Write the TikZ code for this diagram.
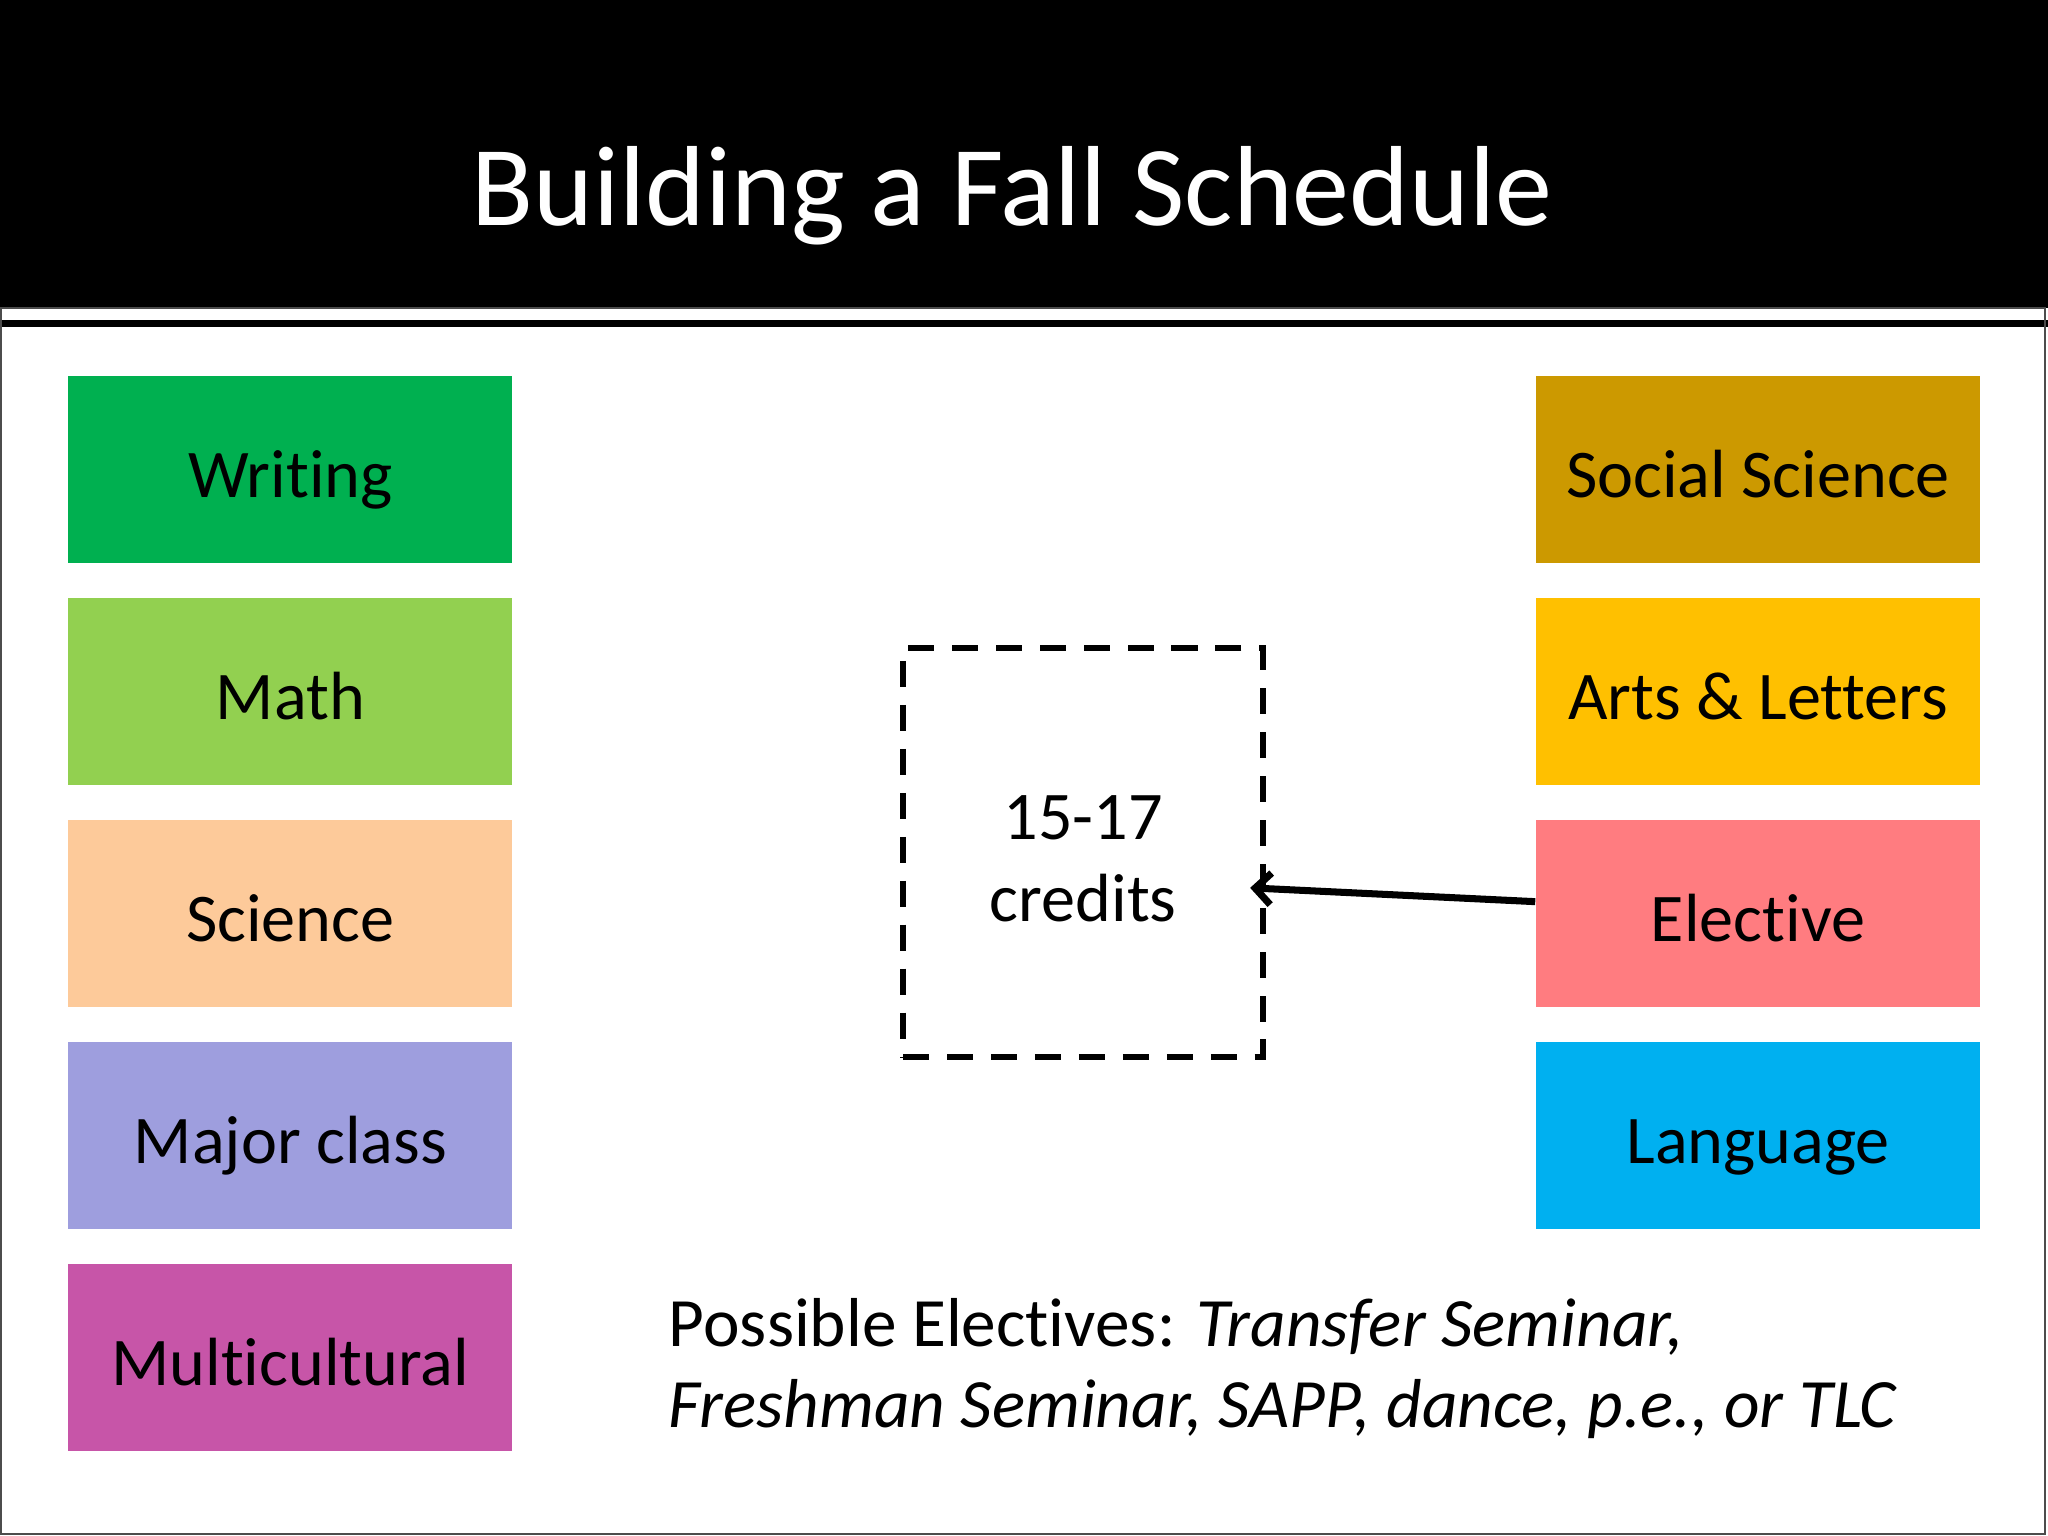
\documentclass[tikz,border=0pt]{standalone}
\usepackage{fontspec}
\setmainfont{Carlito}[Ligatures=NoCommon]
\usepackage{xcolor}
\usepackage{tikz}
\usetikzlibrary{arrows.meta}
\definecolor{writinggreen}{HTML}{00B050}
\definecolor{mathgreen}{HTML}{92D050}
\definecolor{sciencepeach}{HTML}{FDCA9A}
\definecolor{majorlilac}{HTML}{9E9EDE}
\definecolor{multimagenta}{HTML}{C755A8}
\definecolor{socialgold}{HTML}{CC9900}
\definecolor{artsyellow}{HTML}{FFC000}
\definecolor{electivepink}{HTML}{FF7C80}
\definecolor{languageblue}{HTML}{00B0F0}

\begin{document}
\begin{tikzpicture}[x=0.01cm, y=-0.01cm,
	course/.style={minimum width=4.44cm, minimum height=1.87cm, inner sep=0pt, text height=15.9pt, text depth=0pt, font=\fontsize{19.4}{23}\selectfont},
	creditbox/.style={draw, line width=1.6pt, dash pattern=on 7.4pt off 5.1pt, minimum width=3.6cm, minimum height=4.09cm, align=center, font=\fontsize{19.4}{23.3}\selectfont}]
	\fill[white] (0,0) rectangle (2048,1536);
	\fill[black] (0,0) rectangle (2048,308);
	\fill[black] (0,320) rectangle (2048,327);
	\draw[black!70, line width=0.5pt] (0.5,308) rectangle (2045,1534);
	\node[anchor=base, text=white, font=\fontsize{32.4}{40}\selectfont] (title) at (1012,226) {Building a Fall Schedule};
	\node[course, fill=writinggreen] (writing) at (290,469.5) {Writing};
	\node[course, fill=mathgreen] (math) at (290,691.5) {Math};
	\node[course, fill=sciencepeach] (science) at (290,913.5) {Science};
	\node[course, fill=majorlilac] (major) at (290,1135.5) {Major class};
	\node[course, fill=multimagenta] (multicultural) at (290,1357.5) {Multicultural};
	\node[course, fill=socialgold] (social) at (1758,469.5) {Social Science};
	\node[course, fill=artsyellow] (arts) at (1758,691.5) {Arts \& Letters};
	\node[course, fill=electivepink] (elective) at (1758,913.5) {Elective};
	\node[course, fill=languageblue] (language) at (1758,1135.5) {Language};
	\node[creditbox] (credits) at (1083,852.5) {\rule{0pt}{16pt}15-17\\credits};
	\coordinate (tip) at (1250,888);
	\draw[line width=2pt, -{Straight Barb[length=4.5pt,width=9pt]}] (elective.177.5) -- (tip);
	\node[anchor=base west, align=left, inner sep=0pt, font=\fontsize{19.7}{23}\selectfont] (electives) at (668,1428) {Possible Electives: \textit{Transfer Seminar,}\\\textit{Freshman Seminar, SAPP, dance, p.e., or TLC}};
\end{tikzpicture}
\end{document}
